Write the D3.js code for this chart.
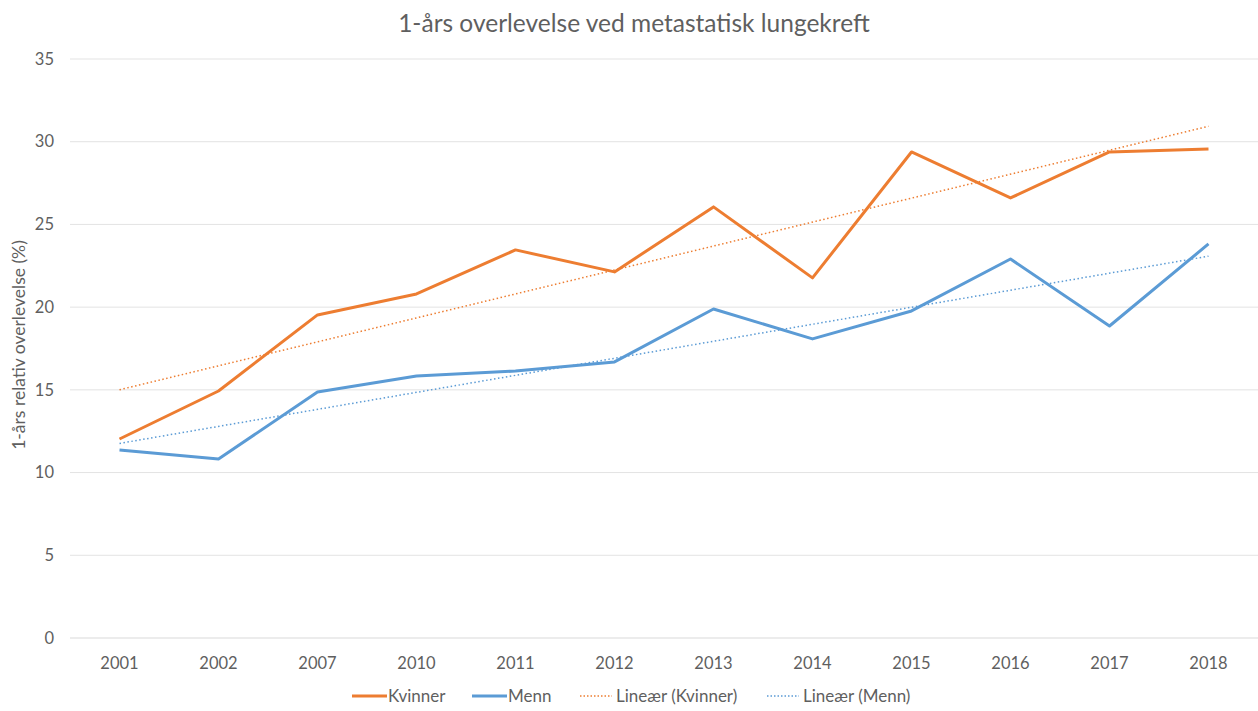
<!DOCTYPE html>
<html>
<head>
<meta charset="utf-8">
<script src="https://cdn.jsdelivr.net/npm/d3@7"></script>
<style>
  body { margin: 0; background: #fff; }
  text { font-family: Lato, "Open Sans", sans-serif; fill: #5f5f5f; }
</style>
</head>
<body>
<svg id="chart"></svg>
<script>
const years = ["2001", "2002", "2007", "2010", "2011", "2012", "2013", "2014", "2015", "2016", "2017", "2018"];
const kvinner = [12.03, 14.93, 19.53, 20.8, 23.46, 22.13, 26.06, 21.77, 29.38, 26.6, 29.38, 29.56];
const menn = [11.37, 10.82, 14.87, 15.84, 16.14, 16.69, 19.89, 18.08, 19.77, 22.91, 18.86, 23.82];
const yTicks = [0, 5, 10, 15, 20, 25, 30, 35];

const width = 1258, height = 711;
const margin = { top: 59, right: 0, bottom: 73, left: 70 };
const orange = "#ED7D31", blue = "#5B9BD5";

const svg = d3.select("#chart").attr("width", width).attr("height", height);

const x = d3.scalePoint().domain(years).range([margin.left, width - margin.right]).padding(0.5);
const y = d3.scaleLinear().domain([0, 35]).range([height - margin.bottom, margin.top]);

// grid
svg.append("g").selectAll("line").data(yTicks).join("line")
  .attr("x1", margin.left).attr("x2", width - margin.right)
  .attr("y1", d => y(d)).attr("y2", d => y(d))
  .attr("stroke", d => d === 0 ? "#d9d9d9" : "#e3e3e3").attr("stroke-width", 1);

// y tick labels
svg.append("g").selectAll("text").data(yTicks).join("text")
  .attr("x", 54).attr("y", d => y(d)).attr("dy", "0.35em")
  .attr("text-anchor", "end").style("font-size", "16.5px").text(d => d);

// x tick labels
svg.append("g").selectAll("text").data(years).join("text")
  .attr("x", d => x(d)).attr("y", y(0) + 31)
  .attr("text-anchor", "middle").style("font-size", "16.5px").text(d => d);

// linear trend (least squares over category index)
function trend(vals) {
  const n = vals.length;
  const xs = vals.map((_, i) => i + 1);
  const mx = d3.mean(xs), my = d3.mean(vals);
  const slope = d3.sum(xs, (xi, i) => (xi - mx) * (vals[i] - my)) / d3.sum(xs, xi => (xi - mx) ** 2);
  const b = my - slope * mx;
  return [[years[0], slope * 1 + b], [years[n - 1], slope * n + b]];
}

const line = d3.line().x(d => x(d[0])).y(d => y(d[1]));

svg.append("path").datum(trend(kvinner))
  .attr("d", line).attr("fill", "none").attr("stroke", orange)
  .attr("stroke-width", 1.5).attr("stroke-dasharray", "1.5,2.5");
svg.append("path").datum(trend(menn))
  .attr("d", line).attr("fill", "none").attr("stroke", blue)
  .attr("stroke-width", 1.5).attr("stroke-dasharray", "1.5,2.5");

svg.append("path").datum(years.map((yr, i) => [yr, kvinner[i]]))
  .attr("d", line).attr("fill", "none").attr("stroke", orange)
  .attr("stroke-width", 3).attr("stroke-linejoin", "round");
svg.append("path").datum(years.map((yr, i) => [yr, menn[i]]))
  .attr("d", line).attr("fill", "none").attr("stroke", blue)
  .attr("stroke-width", 3).attr("stroke-linejoin", "round");

// title
svg.append("text").attr("x", 634).attr("y", 32).attr("text-anchor", "middle")
  .style("font-size", "24.5px").text("1-års overlevelse ved metastatisk lungekreft");

// y axis title
svg.append("text").attr("transform", "translate(25,345) rotate(-90)")
  .attr("text-anchor", "middle").style("font-size", "17.5px")
  .text("1-års relativ overlevelse (%)");

// legend
const legendItems = [
  { label: "Kvinner", color: orange, dashed: false, x: 352 },
  { label: "Menn", color: blue, dashed: false, x: 472 },
  { label: "Lineær (Kvinner)", color: orange, dashed: true, x: 580 },
  { label: "Lineær (Menn)", color: blue, dashed: true, x: 767 }
];
const lg = svg.append("g").selectAll("g").data(legendItems).join("g")
  .attr("transform", d => `translate(${d.x},696)`);
lg.append("line").attr("x1", 0).attr("x2", d => d.dashed ? 32 : 35)
  .attr("stroke", d => d.color).attr("stroke-width", d => d.dashed ? 1.5 : 3)
  .attr("stroke-dasharray", d => d.dashed ? "1.5,2" : null);
lg.append("text").attr("x", 36).attr("dy", "0.35em")
  .style("font-size", "17px").text(d => d.label);
</script>
</body>
</html>
